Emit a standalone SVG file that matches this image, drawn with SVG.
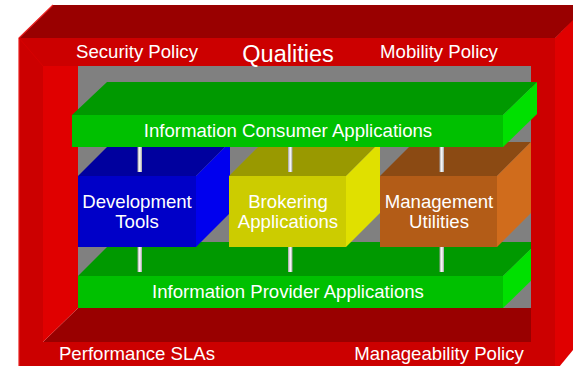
<svg xmlns="http://www.w3.org/2000/svg" width="573" height="366" viewBox="0 0 573 366">
<defs>
<style>
text{font-family:"Liberation Sans",Arial,sans-serif;fill:#ffffff;text-anchor:middle;font-size:18.6px}
.q{font-size:23.5px}
.fr{fill:#cc0000}
.dk{fill:#990000}
.br{fill:#e00000}
.gf{fill:#00c000}.gt{fill:#009900}.gr{fill:#00e000}
.bf{fill:#0000c8}.bt{fill:#00009e}.brt{fill:#0000ee}
.yf{fill:#cccc00}.yt{fill:#999900}.yr{fill:#e0e000}
.of{fill:#b35c17}.ot{fill:#8b4a13}.or{fill:#d06c1c}
.pipe{fill:url(#pg)}
</style>
<linearGradient id="pg" x1="0" y1="0" x2="1" y2="0">
<stop offset="0" stop-color="#a0a0a0"/>
<stop offset="0.5" stop-color="#ffffff"/>
<stop offset="1" stop-color="#a0a0a0"/>
</linearGradient>
</defs>
<rect width="573" height="366" fill="#ffffff"/>
<g id="frame-back">
<rect x="78" y="32" width="488" height="276" fill="#808080"/>
<polygon class="dk" points="43,342 78,308 566,308 531,342"/>
<polygon class="br" points="43,66 78,66 78,308 43,342"/>
</g>
<g id="provider">
<polygon class="gt" points="78,276 112,242 538,242 503,276"/>
<polygon class="gr" points="503,276 538,242 538,274 503,308"/>
<rect class="gf" x="78" y="276" width="425" height="32"/>
<text x="288" y="298">Information Provider Applications</text>
</g>
<g id="dev">
<polygon class="bt" points="78,176 112,142 230,142 196,176"/>
<polygon class="brt" points="196,176 230,142 230,213 196,247"/>
<rect class="bf" x="78" y="176" width="118" height="71"/>
<text x="137" y="208">Development</text>
<text x="137" y="228">Tools</text>
</g>
<g id="brokering">
<polygon class="yt" points="229,176 263,142 380,142 346,176"/>
<polygon class="yr" points="346,176 380,142 380,213 346,247"/>
<rect class="yf" x="229" y="176" width="117" height="71"/>
<text x="288" y="208">Brokering</text>
<text x="288" y="228">Applications</text>
</g>
<g id="mgmt">
<polygon class="ot" points="380,176 414,142 531,142 497,176"/>
<polygon class="or" points="497,176 531,142 531,213 497,247"/>
<rect class="of" x="380" y="176" width="117" height="71"/>
<text x="439" y="208">Management</text>
<text x="439" y="228">Utilities</text>
</g>
<g id="connectors">
<rect class="pipe" x="137.5" y="147" width="4.5" height="25"/>
<rect class="pipe" x="288" y="147" width="4.5" height="25"/>
<rect class="pipe" x="439.5" y="147" width="4.5" height="25"/>
<rect class="pipe" x="137.5" y="247" width="4.5" height="25"/>
<rect class="pipe" x="288" y="247" width="4.5" height="25"/>
<rect class="pipe" x="439.5" y="247" width="4.5" height="25"/>
</g>
<g id="frame">
<polygon class="dk" points="19,38 53,5 590,5 555,38"/>
<polygon class="br" points="555,38 590,3 590,329 555,372"/>
<path class="fr" fill-rule="evenodd" d="M19,38 H555 V372 H19 Z M43,66 V342 H531 V66 Z"/>
<polyline points="19,372 19,38 53,5" fill="none" stroke="#e82020" stroke-width="1.2"/>
<line x1="19" y1="38" x2="43" y2="66" stroke="#d80000" stroke-width="1"/>
<text x="137" y="58">Security Policy</text>
<text class="q" x="288" y="62">Qualities</text>
<text x="439" y="58">Mobility Policy</text>
<text x="137" y="360">Performance SLAs</text>
<text x="439" y="360">Manageability Policy</text>
</g>
<g id="consumer">
<polygon class="gt" points="72,115 107,82 537,82 503,115"/>
<polygon class="gr" points="503,115 537,82 537,114 503,147"/>
<rect class="gf" x="72" y="115" width="431" height="32"/>
<text x="288" y="137">Information Consumer Applications</text>
</g>
</svg>
